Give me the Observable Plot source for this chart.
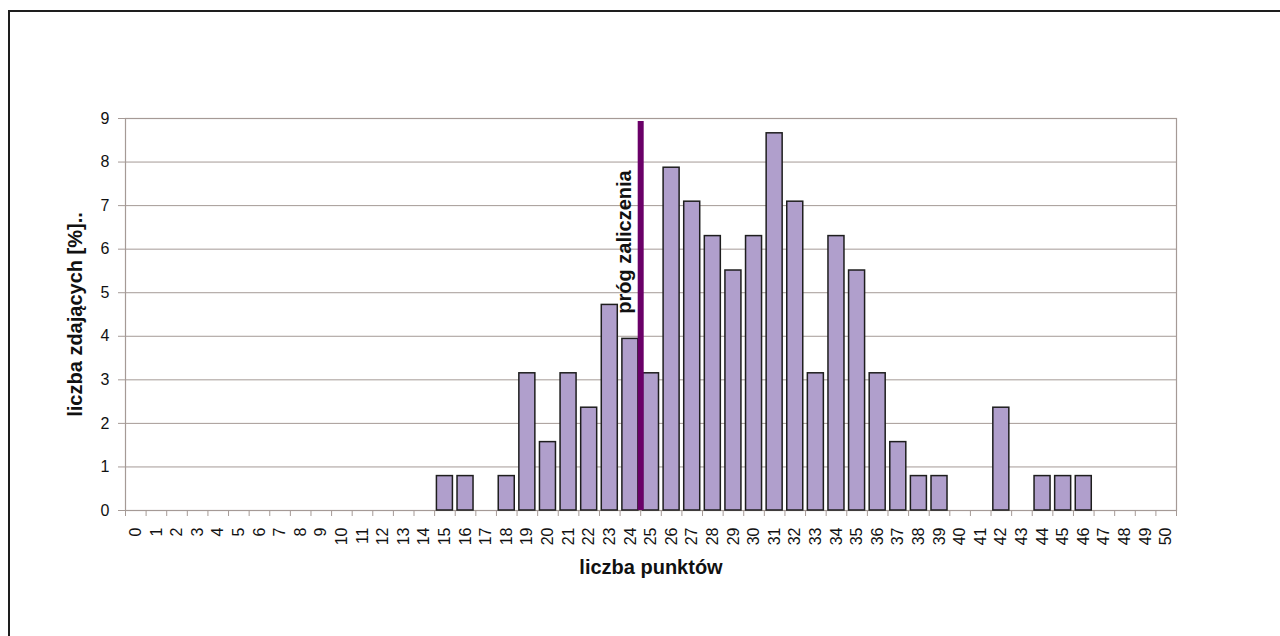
<!DOCTYPE html>
<html><head><meta charset="utf-8">
<script src="https://cdn.jsdelivr.net/npm/d3@7"></script>
<script src="https://cdn.jsdelivr.net/npm/@observablehq/plot@0.6"></script>
<style>
html,body{margin:0;padding:0;background:#fff;}
#wrap{position:relative;width:1280px;height:636px;overflow:hidden;}
#border{position:absolute;left:8px;top:10px;width:1400px;height:800px;border:2px solid #1e1e1e;box-sizing:border-box;}
#chart{position:absolute;left:0;top:0;}
</style></head>
<body><div id="wrap"><div id="border"></div><div id="chart"></div></div>
<script>
// categories: points scored
const points = [0,1,2,3,4,5,6,7,8,9,10,11,12,13,14,15,16,17,18,19,20,21,22,23,24,25,26,27,28,29,30,31,32,33,34,35,36,37,38,39,40,41,42,43,44,45,46,47,48,49,50];
// share of test takers [%]
const values = [0,0,0,0,0,0,0,0,0,0,0,0,0,0,0,0.79,0.79,0,0.79,3.15,1.57,3.15,2.36,4.72,3.94,3.15,7.87,7.09,6.30,5.51,6.30,8.66,7.09,3.15,6.30,5.51,3.15,1.57,0.79,0.79,0,0,2.36,0,0.79,0.79,0.79,0,0,0,0];
const yTicks = [0,1,2,3,4,5,6,7,8,9];
const threshold = 25;
const thresholdTop = 8.93;
const thresholdLabel = "próg zaliczenia";
const xLabel = "liczba punktów";
const yLabel = "liczba zdających [%]..";

const data = points.map((p, i) => ({p, v: values[i]}));
const grid = "#a59a96";

const chart = Plot.plot({
  width: 1280, height: 636,
  marginLeft: 125, marginRight: 104, marginTop: 118, marginBottom: 126,
  style: {fontFamily: "'Liberation Sans', Arial, sans-serif", fontSize: "15px", color: "#111", background: "transparent"},
  x: {type: "linear", domain: [0, 51]},
  y: {domain: [0, 9]},
  marks: [
    Plot.gridY(yTicks.slice(1), {stroke: grid, strokeOpacity: 1, strokeWidth: 1}),
    Plot.frame({stroke: grid, strokeWidth: 1.2}),
    Plot.rect(data.filter(d => d.v > 0), {x1: "p", x2: d => d.p + 1, y1: 0, y2: "v", insetLeft: 2.3, insetRight: 2.3, fill: "#b09fcc", stroke: "#1e1e1e", strokeWidth: 1.5}),
    Plot.ruleX([threshold], {y1: 0, y2: thresholdTop, stroke: "#6a0068", strokeWidth: 6}),
    Plot.text([thresholdLabel], {x: threshold - 0.8, y: 4.52, rotate: -90, textAnchor: "start", fontWeight: "bold", fontSize: 20, fill: "#111"}),
    Plot.axisY({ticks: yTicks, tickSize: 7, tickPadding: 9, stroke: grid, fontSize: 16, label: null}),
    Plot.axisX({ticks: d3.range(0, 52), tickSize: 6, tickFormat: () => "", stroke: grid, label: null}),
    Plot.axisX({ticks: points.map(p => p + 0.5), tickSize: 0, tickFormat: d => String(d - 0.5), tickRotate: -90, tickPadding: 17, fontSize: 16, label: null}),
    Plot.text([yLabel], {frameAnchor: "left", dx: -50, rotate: -90, textAnchor: "middle", lineAnchor: "middle", fontWeight: "bold", fontSize: 20, fill: "#111"}),
    Plot.text([xLabel], {frameAnchor: "bottom", dy: 57, lineAnchor: "middle", fontWeight: "bold", fontSize: 20, fill: "#111"})
  ]
});
document.getElementById("chart").appendChild(chart);
</script>
</body></html>
